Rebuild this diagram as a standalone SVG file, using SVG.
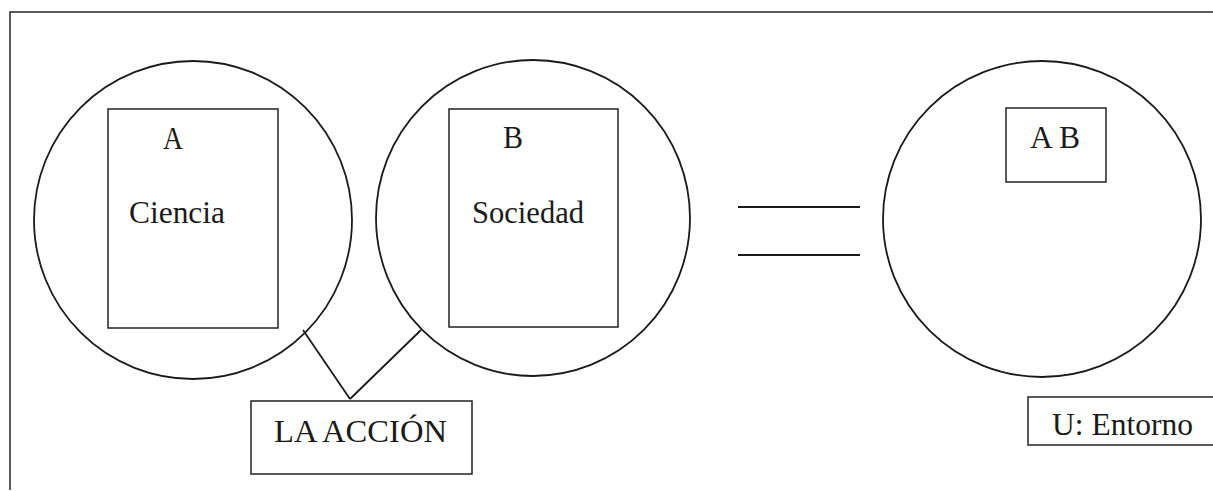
<svg xmlns="http://www.w3.org/2000/svg" width="1213" height="491" viewBox="0 0 1213 491">
<style>
  .shape { fill: none; stroke: #1a1a1a; stroke-width: 1.8; }
  .box { fill: none; stroke: #222; stroke-width: 1.5; }
  .line { stroke: #1a1a1a; stroke-width: 1.8; fill: none; }
  .t { font-family: "Liberation Serif", "Times New Roman", serif; font-size: 32px; fill: #1a1a1a; }
</style>
<rect width="1213" height="491" fill="#ffffff"/>
<g id="frame">
  <path class="box" d="M10,490 L10,12 L1213,12"/>
</g>
<g id="circle-ciencia">
  <ellipse class="shape" cx="193" cy="220" rx="159" ry="159"/>
  <rect class="box" x="108" y="109" width="170" height="219"/>
  <text class="t" x="163" y="149" textLength="20" lengthAdjust="spacingAndGlyphs">A</text>
  <text class="t" x="129" y="223" textLength="96" lengthAdjust="spacingAndGlyphs">Ciencia</text>
</g>
<g id="circle-sociedad">
  <ellipse class="shape" cx="533" cy="218" rx="157" ry="158"/>
  <rect class="box" x="449" y="109" width="169" height="218"/>
  <text class="t" x="503" y="148" textLength="20" lengthAdjust="spacingAndGlyphs">B</text>
  <text class="t" x="472" y="223" textLength="112" lengthAdjust="spacingAndGlyphs">Sociedad</text>
</g>
<g id="equals">
  <line class="line" x1="738" y1="207" x2="860" y2="207"/>
  <line class="line" x1="738" y1="255" x2="860" y2="255"/>
</g>
<g id="circle-ab">
  <ellipse class="shape" cx="1042" cy="219" rx="159" ry="158"/>
  <rect class="box" x="1006" y="108" width="100" height="74"/>
  <text class="t" x="1030" y="148" textLength="50" lengthAdjust="spacingAndGlyphs">A B</text>
</g>
<g id="accion">
  <rect class="box" x="251" y="401" width="221" height="73"/>
  <text class="t" x="274" y="442" textLength="173" lengthAdjust="spacingAndGlyphs">LA ACCIÓN</text>
</g>
<g id="entorno">
  <rect class="box" x="1028" y="397" width="190" height="48"/>
  <text class="t" x="1052" y="435" textLength="141" lengthAdjust="spacingAndGlyphs">U: Entorno</text>
</g>
<g id="connectors">
  <line class="line" x1="303" y1="330" x2="350" y2="399"/>
  <line class="line" x1="421" y1="330" x2="350" y2="399"/>
</g>
</svg>
